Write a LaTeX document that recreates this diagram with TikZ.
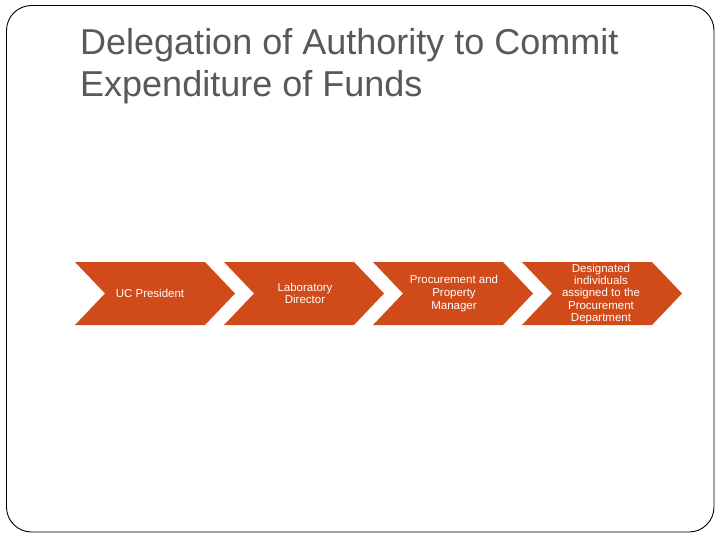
\documentclass[tikz,border=0pt]{standalone}
\usepackage{fontspec}
\setmainfont{Liberation Sans}
\definecolor{chev}{HTML}{D14A1A}
\definecolor{titlegray}{HTML}{595959}
\tikzset{
  chevshape/.style={fill=chev, draw=none},
  chevtext/.style={text=white, align=center, font=\fontsize{11.5}{12.3}\selectfont, inner sep=0pt},
  titletext/.style={text=titlegray, anchor=base west, inner sep=0pt, font=\fontsize{36}{42}\selectfont},
  frame/.style={draw=black, line width=0.9pt, rounded corners=25pt}
}
\begin{document}
\begin{tikzpicture}[x=1pt,y=-1pt]
\useasboundingbox (0,0) rectangle (720,540);
\draw[frame] (6.5,5.5) rectangle (714,532);
\node[titletext] (t1) at (80,55) {Delegation of Authority to Commit};
\node[titletext] (t2) at (80,96.5) {Expenditure of Funds};
\foreach \L in {75,224,373,522}{
  \fill[chevshape] (\L,262) -- ({\L+130},262) -- ({\L+160},293.5) -- ({\L+130},325) -- (\L,325) -- ({\L+30},293.5) -- cycle;
}
\node[chevtext] (c1) at (150,293.5) {UC President};
\node[chevtext] (c2) at (305,293.5) {Laboratory\\Director};
\node[chevtext] (c3) at (454,293.5) {Procurement and\\[0.6pt]Property\\[0.6pt]Manager};
\node[chevtext] (c4) at (601,294) {Designated\\individuals\\assigned to the\\Procurement\\Department};
\end{tikzpicture}
\end{document}
